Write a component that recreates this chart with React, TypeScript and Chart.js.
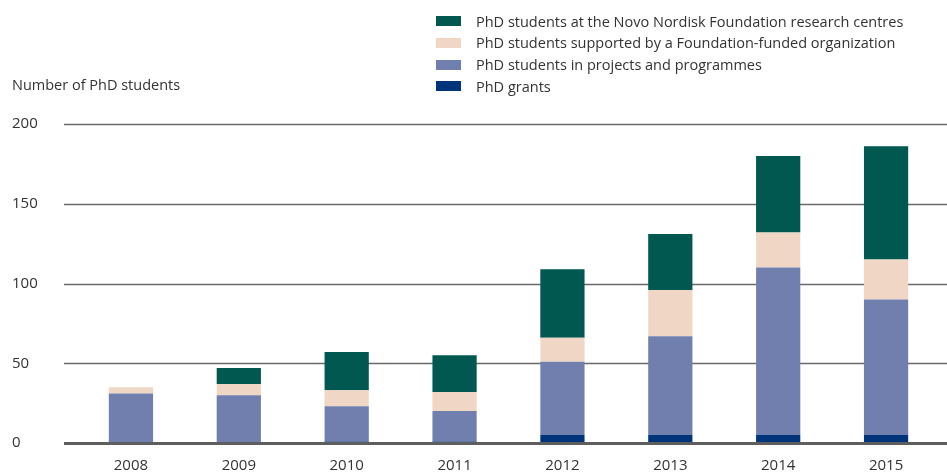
import React, { useEffect, useRef } from "react";
import { Chart, registerables } from "chart.js";

Chart.register(...registerables);

const years = ["2008", "2009", "2010", "2011", "2012", "2013", "2014", "2015"];
const phdGrants = [0, 0, 1, 1, 5, 5, 5, 5];
const projectsProgrammes = [31, 30, 22, 19, 46, 62, 105, 85];
const foundationFunded = [4, 7, 10, 12, 15, 29, 22, 25];
const researchCentres = [0, 10, 24, 23, 43, 35, 48, 71];
const yTicks = [0, 50, 100, 150, 200];

const FONT = "'Open Sans', 'Noto Sans', sans-serif";
const TEXT = "#333333";

const series = [
  { label: "PhD grants", data: phdGrants, color: "#00347a" },
  { label: "PhD students in projects and programmes", data: projectsProgrammes, color: "#717fae" },
  { label: "PhD students supported by a Foundation-funded organization", data: foundationFunded, color: "#f0d7c5" },
  { label: "PhD students at the Novo Nordisk Foundation research centres", data: researchCentres, color: "#005850" },
];

export default function App() {
  const ref = useRef<HTMLCanvasElement | null>(null);

  useEffect(() => {
    if (!ref.current) return;
    const gridPlugin = {
      id: "customGrid",
      beforeDatasetsDraw(chart: any) {
        const ctx = chart.ctx;
        const y = chart.scales.y;
        ctx.save();
        ctx.strokeStyle = "#6a6a6a";
        ctx.lineWidth = 1.6;
        yTicks.forEach((v) => {
          if (v === 0) return;
          const py = Math.round(y.getPixelForValue(v)) + 0.5;
          ctx.beginPath();
          ctx.moveTo(64, py);
          ctx.lineTo(947, py);
          ctx.stroke();
        });
        ctx.fillStyle = TEXT;
        ctx.font = `15px ${FONT}`;
        ctx.textAlign = "left";
        ctx.textBaseline = "middle";
        yTicks.forEach((v) => {
          ctx.fillText(String(v), 12, y.getPixelForValue(v));
        });
        ctx.restore();
      },
      afterDatasetsDraw(chart: any) {
        const ctx = chart.ctx;
        const y = chart.scales.y;
        ctx.save();
        ctx.strokeStyle = "#5e5e5e";
        ctx.lineWidth = 3;
        const py = y.getPixelForValue(0) + 0.5;
        ctx.beginPath();
        ctx.moveTo(64, py);
        ctx.lineTo(947, py);
        ctx.stroke();
        ctx.restore();
      },
    };

    const chart = new Chart(ref.current, {
      type: "bar",
      data: {
        labels: years,
        datasets: series.map((s) => ({
          label: s.label,
          data: s.data,
          backgroundColor: s.color,
          borderWidth: 0,
          barPercentage: 0.41,
          categoryPercentage: 1,
        })),
      },
      options: {
        animation: false,
        responsive: false,
        maintainAspectRatio: false,
        layout: { padding: { top: 124, right: 7, left: 0, bottom: 0 } },
        plugins: { legend: { display: false }, tooltip: { enabled: false } },
        scales: {
          x: {
            stacked: true,
            grid: { display: false, drawTicks: false },
            border: { display: false },
            ticks: {
              color: TEXT,
              font: { family: FONT, size: 15 },
              padding: 14,
            },
            afterFit(scale: any) {
              scale.height = 30;
            },
          },
          y: {
            stacked: true,
            min: 0,
            max: 200,
            ticks: { display: false, stepSize: 50 },
            grid: { display: false },
            border: { display: false },
            afterFit(scale: any) {
              scale.width = 77;
            },
          },
        },
      },
      plugins: [gridPlugin],
    });
    return () => chart.destroy();
  }, []);

  const legendItems = [...series].reverse();

  return (
    <div style={{ position: "fixed", left: 0, top: 0, width: 947, height: 473, background: "#fff", fontFamily: FONT }}>
      <canvas ref={ref} width={947} height={473} style={{ position: "absolute", left: 0, top: 0 }} />
      <div style={{ position: "absolute", left: 12, top: 75, fontSize: 14.5, color: TEXT, lineHeight: "20px" }}>
        Number of PhD students
      </div>
      {legendItems.map((s, i) => (
        <div
          key={s.label}
          style={{ position: "absolute", left: 436, top: 11 + i * 21.8, height: 20, display: "flex", alignItems: "center" }}
        >
          <span style={{ display: "inline-block", width: 25, height: 10, background: s.color }} />
          <span style={{ marginLeft: 15, fontSize: 14.5, color: TEXT, whiteSpace: "nowrap" }}>{s.label}</span>
        </div>
      ))}
    </div>
  );
}
